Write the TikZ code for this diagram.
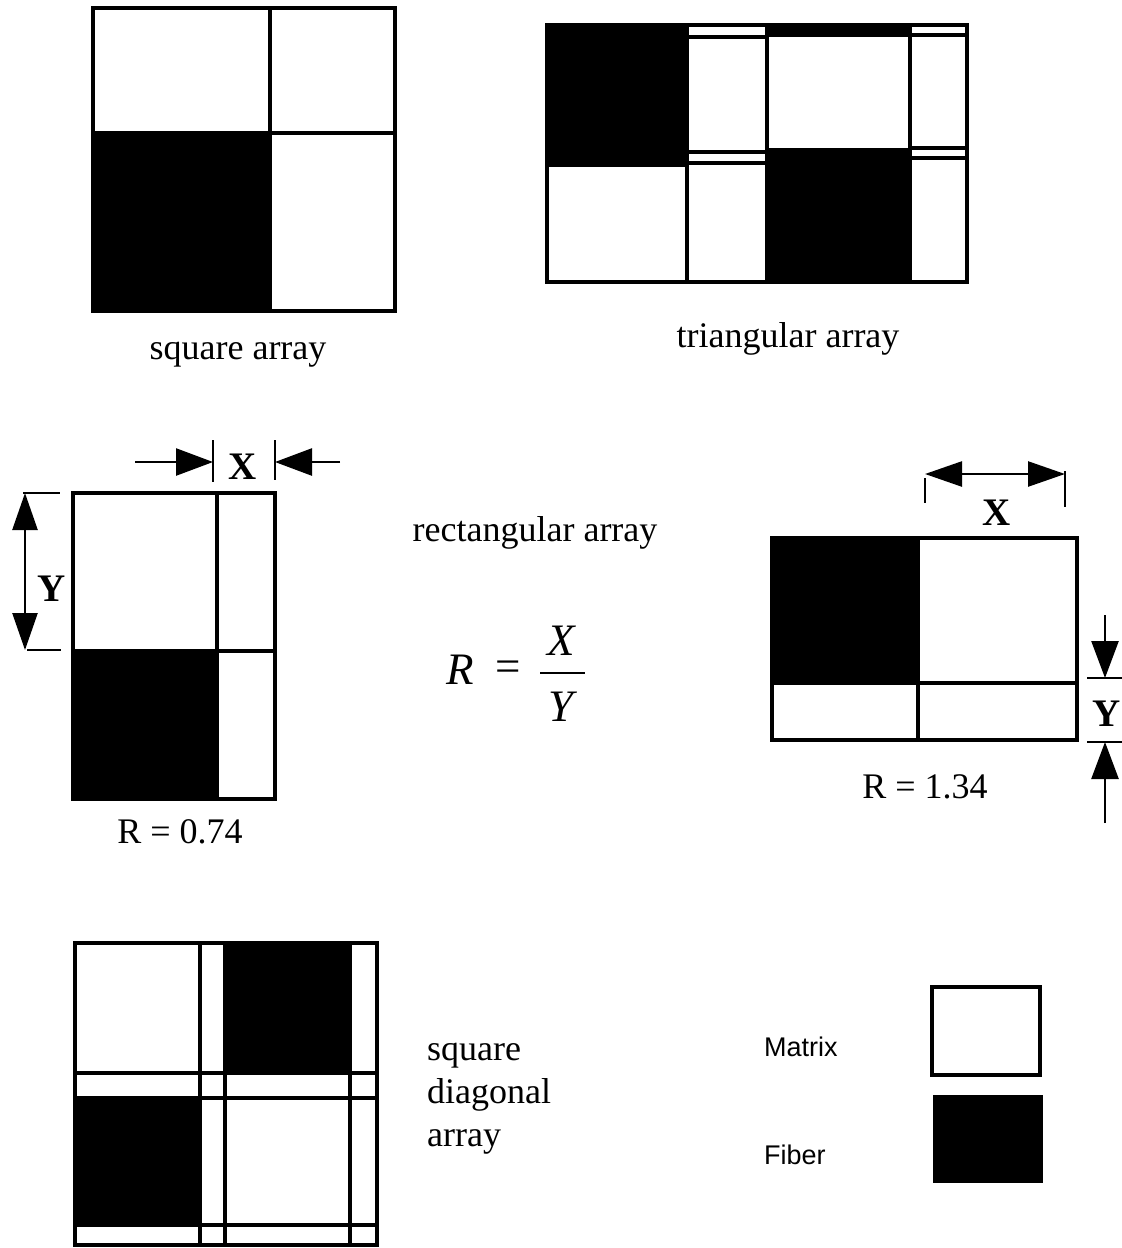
\documentclass[tikz,border=0pt]{standalone}
\usepackage{fontspec}
\setmainfont{Liberation Serif}
\setsansfont{Liberation Sans}
\usetikzlibrary{arrows.meta}
\tikzset{
  frame/.style={line width=3.5pt},
  ext/.style={line width=2.5pt},
  lbl/.style={font=\fontsize{36}{43}\selectfont, inner sep=0pt},
  dimlbl/.style={font=\fontsize{39}{40}\selectfont\bfseries, inner sep=0pt},
  mathlbl/.style={font=\fontsize{45}{48}\selectfont\itshape, inner sep=0pt},
  legendtxt/.style={font=\sffamily\fontsize{27}{30}\selectfont, inner sep=0pt},
  onehead/.style={line width=2.5pt, -{Triangle[length=37pt,width=27pt]}},
  twohead/.style={line width=2.5pt, {Triangle[length=37pt,width=25pt]}-{Triangle[length=37pt,width=25pt]}}
}
\begin{document}
\begin{tikzpicture}[x=1pt,y=-1pt]
\useasboundingbox[fill=white] (0,0) rectangle (1122,1248);

% ---------- square array ----------
\fill (93,133) rectangle (270,311);
\draw[frame] (93,8) rectangle (395,311);
\draw[frame] (270,8) -- (270,311);
\draw[frame] (93,133) -- (395,133);
\node[lbl] (sqlbl) at (238,355) {square array};

% ---------- triangular array ----------
\fill (547,25) rectangle (687,165);
\fill (767,25) rectangle (910,37);
\fill (767,148) rectangle (910,282);
\draw[frame] (547,25) rectangle (967,282);
\draw[frame] (687,25) -- (687,282);
\draw[frame] (767,25) -- (767,282);
\draw[frame] (910,25) -- (910,282);
\draw[frame] (547,165) -- (687,165);
\draw[frame] (687,37) -- (767,37);
\draw[frame] (687,152) -- (767,152);
\draw[frame] (687,163) -- (767,163);
\draw[frame] (910,35) -- (967,35);
\draw[frame] (910,148) -- (967,148);
\draw[frame] (910,158) -- (967,158);
\node[lbl] (trilbl) at (788,339) {triangular array};

% ---------- rectangular array, R = 0.74 ----------
\fill (73,651) rectangle (217,799);
\draw[frame] (73,493) rectangle (275,799);
\draw[frame] (217,493) -- (217,799);
\draw[frame] (73,651) -- (275,651);
% X dimension
\coordinate (lxa1) at (213,440); \coordinate (lxa2) at (213,482);
\coordinate (lxb1) at (275,440); \coordinate (lxb2) at (275,480);
\draw[ext] (lxa1) -- (lxa2);
\draw[ext] (lxb1) -- (lxb2);
\coordinate (lxl0) at (135,462); \coordinate (lxl1) at (213,462);
\coordinate (lxr0) at (340,462); \coordinate (lxr1) at (275,462);
\draw[onehead] (lxl0) -- (lxl1);
\draw[onehead] (lxr0) -- (lxr1);
\node[dimlbl] (lX) at (243,467) {X};
% Y dimension
\coordinate (lya1) at (23,493); \coordinate (lya2) at (60,493);
\coordinate (lyb1) at (27,650); \coordinate (lyb2) at (61,650);
\draw[ext] (lya1) -- (lya2);
\draw[ext] (lyb1) -- (lyb2);
\coordinate (lyt) at (25,493); \coordinate (lyb) at (25,650);
\draw[twohead] (lyt) -- (lyb);
\node[dimlbl] (lY) at (52,589) {Y};
\node[lbl] (r074) at (180,832) {R = 0.74};

% ---------- formula ----------
\node[lbl] (rectlbl) at (535,533) {rectangular array};
\node[mathlbl] (fR) at (460,670) {R};
\node[font=\fontsize{45}{48}\selectfont, inner sep=0pt] (feq) at (508,671) {=};
\node[mathlbl] (fX) at (561,641) {X};
\node[mathlbl] (fY) at (561,707) {Y};
\coordinate (fb0) at (540,673); \coordinate (fb1) at (585,673);
\draw[line width=2pt] (fb0) -- (fb1);

% ---------- rectangular array, R = 1.34 ----------
\fill (772,538) rectangle (918,683);
\draw[frame] (772,538) rectangle (1077,740);
\draw[frame] (918,538) -- (918,740);
\draw[frame] (772,683) -- (1077,683);
% X dimension
\coordinate (rxa1) at (925,478); \coordinate (rxa2) at (925,503);
\coordinate (rxb1) at (1065,471); \coordinate (rxb2) at (1065,507);
\draw[ext] (rxa1) -- (rxa2);
\draw[ext] (rxb1) -- (rxb2);
\coordinate (rxl) at (925,474); \coordinate (rxr) at (1065,474);
\draw[twohead] (rxl) -- (rxr);
\node[dimlbl] (rX) at (997,513) {X};
% Y dimension
\coordinate (rya1) at (1087,678); \coordinate (rya2) at (1122,678);
\coordinate (ryb1) at (1087,742); \coordinate (ryb2) at (1122,742);
\draw[ext] (rya1) -- (rya2);
\draw[ext] (ryb1) -- (ryb2);
\coordinate (ryt0) at (1105,615); \coordinate (ryt1) at (1105,678);
\coordinate (ryb0) at (1105,823); \coordinate (ryb3) at (1105,742);
\draw[onehead] (ryt0) -- (ryt1);
\draw[onehead] (ryb0) -- (ryb3);
\node[dimlbl] (rY) at (1107,714) {Y};
\node[lbl] (r134) at (925,787) {R = 1.34};

% ---------- square diagonal array ----------
\fill (75,1098) rectangle (200,1225);
\fill (225,943) rectangle (350,1073);
\draw[frame] (75,943) rectangle (377,1245);
\draw[frame] (200,943) -- (200,1245);
\draw[frame] (225,943) -- (225,1245);
\draw[frame] (350,943) -- (350,1245);
\draw[frame] (75,1073) -- (377,1073);
\draw[frame] (75,1098) -- (377,1098);
\draw[frame] (75,1225) -- (377,1225);
\node[lbl, anchor=west, align=left] (sdlbl) at (427,1099) {square\\diagonal\\array};

% ---------- legend ----------
\draw[frame] (932,987) rectangle (1040,1075);
\fill (933,1095) rectangle (1043,1183);
\node[legendtxt, anchor=west] (mat) at (764,1047) {Matrix};
\node[legendtxt, anchor=west] (fib) at (764,1155) {Fiber};
\end{tikzpicture}
\end{document}
